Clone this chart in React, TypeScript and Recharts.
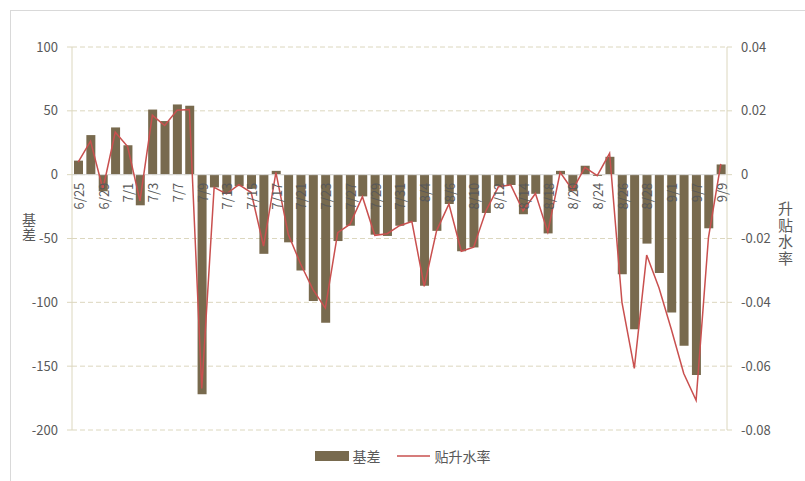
import React from 'react';
import {
  ComposedChart, Bar, Line, XAxis, YAxis, CartesianGrid, ReferenceLine, Legend, LabelList,
} from 'recharts';

const dates = [
  '6/25', '6/26', '6/29', '6/30', '7/1', '7/2', '7/3', '7/6', '7/7', '7/8',
  '7/9', '7/10', '7/13', '7/14', '7/15', '7/16', '7/17', '7/20', '7/21', '7/22',
  '7/23', '7/24', '7/27', '7/28', '7/29', '7/30', '7/31', '8/3', '8/4', '8/5',
  '8/6', '8/7', '8/10', '8/11', '8/12', '8/13', '8/14', '8/17', '8/18', '8/19',
  '8/20', '8/21', '8/24', '8/25', '8/26', '8/27', '8/28', '8/31', '9/1', '9/2',
  '9/7', '9/8', '9/9',
];

const basis = [
  11, 31, -13, 37, 23, -24, 51, 42, 55, 54,
  -172, -10, -15, -9, -11, -62, 3, -53, -75, -99,
  -116, -52, -40, -17, -47, -48, -40, -37, -87, -44,
  -23, -60, -57, -30, -9, -8, -31, -15, -46, 3,
  -13, 7, -1, 14, -78, -121, -54, -77, -108, -134,
  -157, -42, 8,
];

const premiumRate = [
  0.0039, 0.0105, -0.0045, 0.0133, 0.0088, -0.0082, 0.0186, 0.0154, 0.0202, 0.0204,
  -0.067, -0.004, -0.006, -0.0031, -0.0056, -0.0224, 0.0007, -0.0187, -0.028, -0.036,
  -0.0418, -0.0182, -0.0155, -0.0069, -0.019, -0.0185, -0.016, -0.0147, -0.035, -0.0176,
  -0.0092, -0.024, -0.0227, -0.0113, -0.0038, -0.0032, -0.0113, -0.0059, -0.018, 0.0007,
  -0.0048, 0.0023, -0.0003, 0.0067, -0.04, -0.0607, -0.0252, -0.0355, -0.0485, -0.0623,
  -0.0707, -0.0197, 0.0034,
];

const leftTicks = [-200, -150, -100, -50, 0, 50, 100];
const rightTicks = [-0.08, -0.06, -0.04, -0.02, 0, 0.02, 0.04];

const seriesBasis = '基差';
const seriesRate = '贴升水率';
const leftTitle = '基差';
const rightTitle = '升贴水率';

const data = dates.map((d, i) => ({ date: d, basis: basis[i], rate: premiumRate[i] }));

const FONT = '"Noto Sans CJK SC", "Noto Sans", sans-serif';
const TEXT = '#595959';
const BAR = '#786A4E';
const RED = '#C9504F';
const AXIS = '#DCD7BE';

const W = 805;
const H = 481;
const TOP = 47;
const BOTTOM = 51;
const LEFT = 72;
const RIGHT = 78;
const XAXIS_H = 30;
const LEGEND_H = 20;
const PLOT_H = H - TOP - BOTTOM;
const ZERO_Y = TOP + (100 / 300) * PLOT_H;

const DateLabel = (props: any) => {
  const { x, width, index, value } = props;
  if (index % 2 !== 0) return null;
  const cx = Number(x) + Number(width) / 2;
  return (
    <text
      transform={`translate(${cx}, ${ZERO_Y + 8}) rotate(-90)`}
      textAnchor="end"
      dominantBaseline="central"
      fill={TEXT}
      fontSize={13}
      fontFamily={FONT}
    >
      {value}
    </text>
  );
};

const LegendContent = () => (
  <div style={{ display: 'flex', justifyContent: 'center', alignItems: 'center', height: LEGEND_H, fontFamily: FONT, fontSize: 14, color: TEXT }}>
    <svg width={36} height={12} style={{ marginRight: 2 }}>
      <rect x={0} y={1} width={34} height={10} fill={BAR} />
    </svg>
    <span style={{ marginRight: 16 }}>{seriesBasis}</span>
    <svg width={36} height={12} style={{ marginRight: 2 }}>
      <line x1={0} y1={6} x2={33} y2={6} stroke={RED} strokeWidth={1.5} />
    </svg>
    <span>{seriesRate}</span>
  </div>
);

const VerticalTitle = ({ text, left, top, size, spacing }: any) => (
  <div
    style={{
      position: 'absolute', left, top,
      writingMode: 'vertical-rl', textOrientation: 'upright',
      fontFamily: FONT, fontSize: size, letterSpacing: spacing, color: TEXT, lineHeight: 1,
    }}
  >
    {text}
  </div>
);

export default function App() {
  return (
    <div style={{ position: 'absolute', left: 0, top: 0, width: W, height: H, overflow: 'hidden', background: '#fff' }}>
      <div style={{ position: 'absolute', left: 10, top: 10, width: 840, height: 520, border: '1px solid #D9D9D9', boxSizing: 'border-box' }} />
      <div style={{ position: 'absolute', left: 0, top: 0 }}>
        <ComposedChart
          width={W}
          height={H}
          data={data}
          margin={{ top: TOP, right: 0, left: 0, bottom: BOTTOM - XAXIS_H - LEGEND_H }}
          barCategoryGap="26%"
        >
          <CartesianGrid horizontal vertical={false} stroke={AXIS} strokeDasharray="5 3" yAxisId="left" />
          <XAxis
            dataKey="date"
            height={XAXIS_H}
            axisLine={false}
            tickLine={false}
            tick={false}
          />
          <YAxis
            yAxisId="left"
            orientation="left"
            width={LEFT}
            domain={[-200, 100]}
            ticks={leftTicks}
            interval={0}
            stroke={AXIS}
            tickSize={5}
            tickMargin={9}
            tick={{ fill: TEXT, fontSize: 13, fontFamily: FONT }}
          />
          <YAxis
            yAxisId="right"
            orientation="right"
            width={RIGHT}
            domain={[-0.08, 0.04]}
            ticks={rightTicks}
            interval={0}
            stroke={AXIS}
            tickSize={5}
            tickMargin={9}
            tick={{ fill: TEXT, fontSize: 13, fontFamily: FONT }}
          />
          <ReferenceLine yAxisId="left" y={0} stroke="#D9D9D9" strokeWidth={1} />
          <Bar yAxisId="left" dataKey="basis" name={seriesBasis} fill={BAR} barSize={9} isAnimationActive={false}>
            <LabelList dataKey="date" content={<DateLabel />} />
          </Bar>
          <Line
            yAxisId="right"
            dataKey="rate"
            name={seriesRate}
            stroke={RED}
            strokeWidth={1.5}
            dot={false}
            activeDot={false}
            type="linear"
            isAnimationActive={false}
          />
          <Legend
            verticalAlign="bottom"
            align="center"
            height={LEGEND_H}
            content={<LegendContent />}
            wrapperStyle={{ bottom: 15 }}
          />
        </ComposedChart>
      </div>
      <VerticalTitle text={leftTitle} left={22} top={213} size={14} spacing={1} />
      <VerticalTitle text={rightTitle} left={778} top={201} size={15} spacing={1.5} />
    </div>
  );
}
